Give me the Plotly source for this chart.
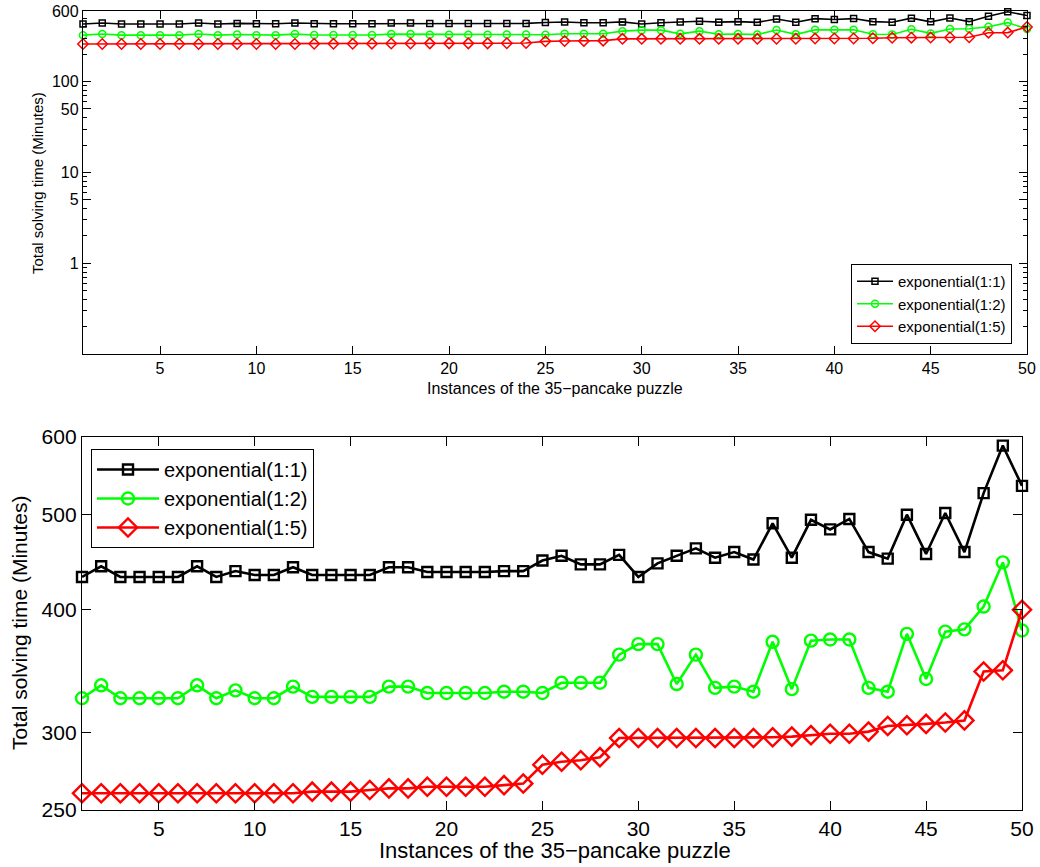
import plotly.graph_objects as go

instances = list(range(1, 51))

exp_1_1 = [432, 443, 432, 432, 432, 432, 443, 432, 438, 434,
           434, 442, 434, 434, 434, 434, 442, 442, 437, 437,
           437, 437, 438, 438, 449, 454, 445, 445, 455, 432,
           446, 454, 462, 452, 458, 450, 490, 452, 494, 483,
           495, 458, 451, 500, 456, 502, 458, 526, 588, 535]

exp_1_2 = [325, 335, 325, 325, 325, 325, 335, 325, 331, 325,
           325, 334, 326, 326, 326, 326, 334, 334, 329, 329,
           329, 329, 330, 330, 329, 337, 337, 337, 360, 369,
           369, 336, 360, 333, 334, 330, 371, 332, 372, 373,
           373, 333, 330, 378, 340, 380, 382, 403, 447, 381]

exp_1_5 = [260, 260, 260, 260, 260, 260, 260, 260, 260, 260,
           260, 260, 261, 261, 261, 262, 263, 263, 264, 264,
           264, 264, 265, 266, 278, 280, 281, 283, 296, 296,
           296, 296, 296, 296, 296, 296, 296.5, 297, 298, 299,
           299, 300.5, 304.5, 305, 306, 307, 308.5, 346, 347, 400]

series_names = ["exponential(1:1)", "exponential(1:2)", "exponential(1:5)"]
series_vals = [exp_1_1, exp_1_2, exp_1_5]
colors = ["#000000", "#00FF00", "#FF0000"]
symbols = ["square-open", "circle-open", "diamond-open"]

top_yticks = [1, 5, 10, 50, 100, 600]
top_minor = [0.2, 0.3, 0.4, 0.5, 0.6, 0.7, 0.8, 0.9, 2, 3, 4, 6, 7, 8, 9,
             20, 30, 40, 60, 70, 80, 90, 200, 300, 400, 500]
bottom_yticks = [250, 300, 400, 500, 600]
xticks = [5, 10, 15, 20, 25, 30, 35, 40, 45, 50]

x_title = "Instances of the 35\u2212pancake puzzle"
y_title = "Total solving time (Minutes)"

W, H = 1040, 867
FONT = "Liberation Sans, Arial, Helvetica, sans-serif"

def px(v, total):
    return v / total

fig = go.Figure()

top_sizes = [6, 7, 8]
bot_sizes = [10, 12, 14]
for name, vals, c, s, ts, bs in zip(series_names, series_vals, colors, symbols, top_sizes, bot_sizes):
    fig.add_trace(go.Scatter(
        x=instances, y=vals, name=name, mode="lines+markers",
        line=dict(color=c, width=1.6),
        marker=dict(symbol=s, size=ts, color=c, line=dict(color=c, width=1.5)),
        xaxis="x", yaxis="y", legend="legend", cliponaxis=False,
    ))
for name, vals, c, s, ts, bs in zip(series_names, series_vals, colors, symbols, top_sizes, bot_sizes):
    fig.add_trace(go.Scatter(
        x=instances, y=vals, name=name, mode="lines+markers",
        line=dict(color=c, width=2.6),
        marker=dict(symbol=s, size=bs, color=c, line=dict(color=c, width=2.4)),
        xaxis="x2", yaxis="y2", legend="legend2", cliponaxis=False,
    ))

axis_common = dict(showline=True, linecolor="black", linewidth=1.3, mirror="ticks",
                   ticks="inside", tickcolor="black", showgrid=False, zeroline=False,
                   automargin=False)

fig.update_layout(
    width=W, height=H,
    margin=dict(l=0, r=0, t=0, b=0, autoexpand=False),
    paper_bgcolor="white", plot_bgcolor="white",
    font=dict(family=FONT, color="black"),
    xaxis=dict(domain=[px(83, W), px(1027, W)], anchor="y", range=[1, 50],
               tickvals=xticks, ticklen=8, tickfont=dict(size=16), **axis_common),
    yaxis=dict(domain=[1 - px(354, H), 1 - px(11, H)], anchor="x", type="log",
               range=[-1, 2.77815], tickvals=top_yticks, ticktext=[str(v) for v in top_yticks],
               ticklen=8, tickfont=dict(size=16),
               minor=dict(tickvals=top_minor, ticklen=4, ticks="inside", tickcolor="black"),
               **axis_common),
    xaxis2=dict(domain=[px(82, W), px(1022, W)], anchor="y2", range=[1, 50],
                tickvals=xticks, ticklen=9, tickfont=dict(size=21), **axis_common),
    yaxis2=dict(domain=[1 - px(810, H), 1 - px(437, H)], anchor="x2", type="log",
                range=[2.39794, 2.77815], tickvals=bottom_yticks,
                ticktext=[str(v) for v in bottom_yticks],
                ticklen=9, tickfont=dict(size=21), **axis_common),
    legend=dict(x=px(1012, W), y=1 - px(344, H), xanchor="right", yanchor="bottom",
                bgcolor="white", bordercolor="black", borderwidth=1,
                font=dict(size=15), tracegroupgap=0, itemwidth=36),
    legend2=dict(x=px(91, W), y=1 - px(449, H), xanchor="left", yanchor="top",
                 bgcolor="white", bordercolor="black", borderwidth=1,
                 font=dict(size=20), tracegroupgap=0, itemwidth=62),
    showlegend=True,
)

annotations = [
    dict(text=x_title, x=px(555, W), y=1 - px(388, H), xref="paper", yref="paper",
         showarrow=False, font=dict(size=16), xanchor="center", yanchor="middle"),
    dict(text=y_title, x=px(37, W), y=1 - px(183, H), xref="paper", yref="paper",
         showarrow=False, font=dict(size=15), textangle=-90, xanchor="center", yanchor="middle"),
    dict(text=x_title, x=px(555, W), y=1 - px(850, H), xref="paper", yref="paper",
         showarrow=False, font=dict(size=22), xanchor="center", yanchor="middle"),
    dict(text=y_title, x=px(19, W), y=1 - px(623, H), xref="paper", yref="paper",
         showarrow=False, font=dict(size=21), textangle=-90, xanchor="center", yanchor="middle"),
]
fig.update_layout(annotations=annotations)

fig.write_html("out.html", config={"displayModeBar": False},
               post_script="document.body.style.margin='0px';document.body.style.overflow='hidden';")
